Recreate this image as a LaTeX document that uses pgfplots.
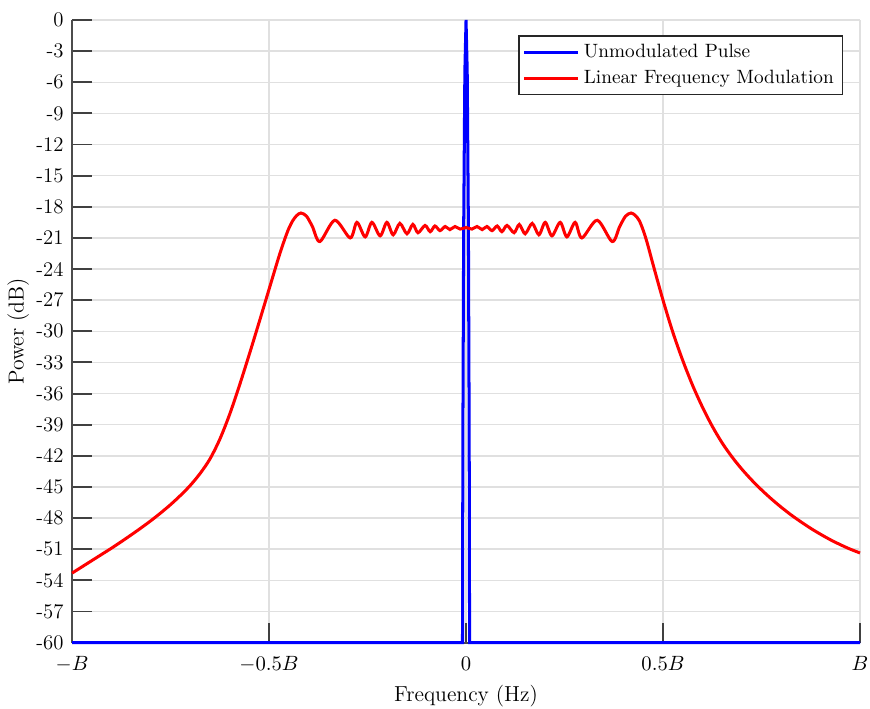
\documentclass[border=0pt]{standalone}
\usepackage{pgfplots}
\pgfplotsset{compat=1.18}
\begin{document}
\begin{tikzpicture}
\begin{axis}[
  name=ax,
  width=417.6pt, height=330pt, scale only axis,
  xmin=-1, xmax=1, ymin=-60, ymax=0,
  axis x line*=bottom, axis y line*=left,
  xtick={-1,-0.5,0,0.5,1},
  xticklabels={$-B$,$-0.5B$,$0$,$0.5B$,$B$},
  ytick={-60,-57,...,0},
  yticklabels={-60,-57,-54,-51,-48,-45,-42,-39,-36,-33,-30,-27,-24,-21,-18,-15,-12,-9,-6,-3,0},
  tick align=inside, major tick length=10.6pt,
  grid=major, grid style={black!12, line width=0.8pt},
  axis line style={line width=1pt, black!70},
  tick style={line width=1pt, black!75},
  ticklabel style={font=\fontsize{11}{13}\selectfont},
  xticklabel style={yshift=-4pt},
  yticklabel style={xshift=-1pt},
  label style={font=\fontsize{11.5}{13.5}\selectfont},
  xlabel={Frequency (Hz)}, ylabel={Power (dB)},
  xlabel style={yshift=0pt},
  ylabel style={yshift=-3pt},
  clip=false,
  legend cell align=left,
  legend style={at={(1,1)}, xshift=-9pt, yshift=-8pt, anchor=north east,
    draw=black!85, line width=0.8pt, fill=white, inner sep=2pt,
    font=\fontsize{10.2}{12}\selectfont,
    nodes={inner sep=2.5pt}},
  legend image code/.code={\draw[#1] (0cm,0cm) -- (1.0cm,0cm);},
]
\addplot[blue, line width=1.6pt] coordinates {
(-1,-60) (-0.009,-60) (-0.008,-40) (-0.006,-20) (-0.003,-5) (0,0)
(0.003,-5) (0.006,-20) (0.008,-40) (0.009,-60) (1,-60)
};
\addlegendentry{Unmodulated Pulse}
\addplot[red, line width=1.6pt, smooth] coordinates {
(-1.000,-53.3) (-0.975,-52.7) (-0.950,-52.1) (-0.925,-51.5) (-0.900,-50.9)
(-0.875,-50.27) (-0.850,-49.62) (-0.825,-48.95) (-0.800,-48.25) (-0.775,-47.5)
(-0.750,-46.7) (-0.725,-45.82) (-0.700,-44.85) (-0.675,-43.7)
(-0.650,-42.3) (-0.625,-40.4) (-0.600,-38.0) (-0.575,-35.2) (-0.550,-32.2)
(-0.525,-29.1) (-0.500,-25.95) (-0.475,-22.8) (-0.460,-21.1) (-0.450,-20.1)
(-0.440,-19.35) (-0.430,-18.85) (-0.419,-18.6) (-0.405,-18.9)
(-0.390,-19.9) (-0.371,-21.35) (-0.333,-19.3) (-0.294,-21.0) (-0.277,-19.5)
(-0.256,-20.9) (-0.239,-19.5) (-0.218,-20.8) (-0.201,-19.5) (-0.185,-20.7)
(-0.168,-19.6) (-0.150,-20.6) (-0.135,-19.7) (-0.122,-20.5) (-0.104,-19.8)
(-0.091,-20.4) (-0.079,-19.85) (-0.066,-20.3) (-0.053,-19.9) (-0.041,-20.2)
(-0.028,-19.9) (-0.015,-20.15) (0,-20.0)
(0.015,-20.15) (0.028,-19.9) (0.041,-20.2) (0.053,-19.9) (0.066,-20.3)
(0.079,-19.85) (0.091,-20.4) (0.104,-19.8) (0.122,-20.5) (0.135,-19.7)
(0.150,-20.6) (0.168,-19.6) (0.185,-20.7) (0.201,-19.5) (0.218,-20.8)
(0.239,-19.5) (0.256,-20.9) (0.277,-19.5) (0.294,-21.0) (0.333,-19.3)
(0.371,-21.35) (0.390,-19.9) (0.405,-18.9) (0.419,-18.6) (0.430,-18.85)
(0.440,-19.35) (0.450,-20.3) (0.460,-21.5) (0.475,-23.6) (0.500,-27.0)
(0.525,-30.1) (0.550,-32.8) (0.575,-35.2) (0.600,-37.3) (0.625,-39.15)
(0.650,-40.75) (0.675,-42.1) (0.700,-43.28) (0.725,-44.33) (0.750,-45.28)
(0.775,-46.15) (0.800,-46.95) (0.825,-47.69) (0.850,-48.36) (0.875,-48.99)
(0.900,-49.56) (0.925,-50.09) (0.950,-50.56) (0.975,-50.99) (1.000,-51.36)
};
\addlegendentry{Linear Frequency Modulation}
\end{axis}
\pgfresetboundingbox
\path ([xshift=-38.2pt,yshift=-35pt]ax.south west) rectangle ([xshift=5.3pt,yshift=10.6pt]ax.north east);
\end{tikzpicture}
\end{document}
